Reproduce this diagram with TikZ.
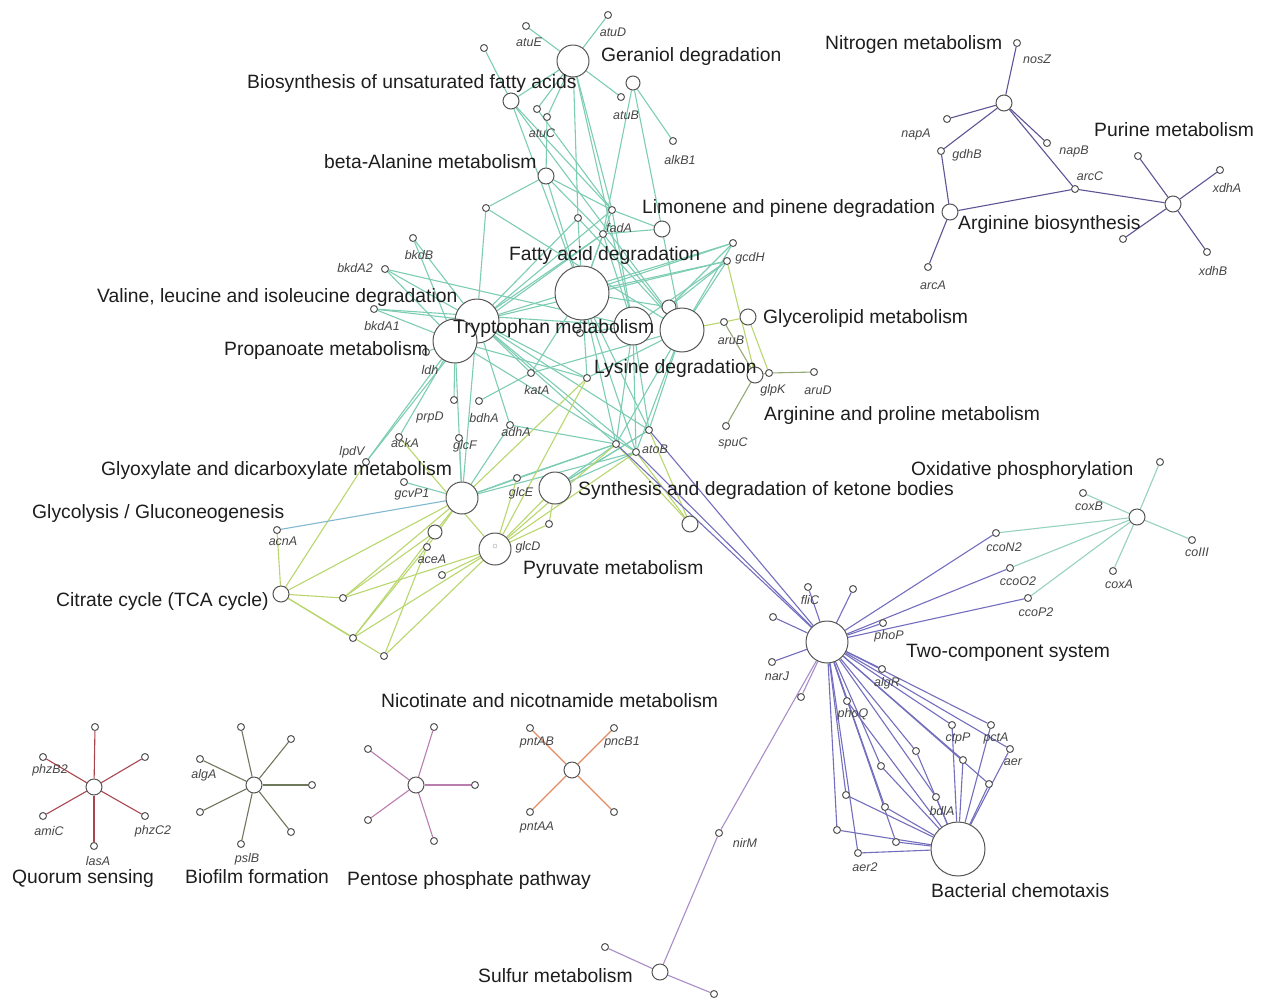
\documentclass[tikz,border=0pt]{standalone}
\usepackage{fontspec}
\setmainfont{Liberation Sans}
\pgfdeclarelayer{bot}\pgfdeclarelayer{bg}\pgfdeclarelayer{fg}
\pgfsetlayers{bot,bg,main,fg}
\definecolor{ncol}{RGB}{85,85,85}
\definecolor{labc}{RGB}{30,30,30}
\definecolor{glabc}{RGB}{70,70,70}
\definecolor{cteal}{RGB}{125,205,180}
\definecolor{clime}{RGB}{185,215,110}
\definecolor{cblue}{RGB}{130,185,210}
\definecolor{cpurp}{RGB}{115,110,190}
\definecolor{cdpurp}{RGB}{95,85,150}
\definecolor{clav}{RGB}{170,140,200}
\definecolor{coxt}{RGB}{150,210,190}
\definecolor{cred}{RGB}{170,70,80}
\definecolor{colive}{RGB}{110,120,90}
\definecolor{cpink}{RGB}{185,125,175}
\definecolor{corange}{RGB}{225,140,100}
\definecolor{cargp}{RGB}{150,170,120}
\newcommand\mynode[4][gs]{\node[#1] (#2) at (#3,#4) {};}
\newcommand\myedges[2]{\begin{pgfonlayer}{bg}\foreach \ea/\eb in {#2} {\draw[#1] (\ea) -- (\eb);}\end{pgfonlayer}}
\begin{document}
\begin{tikzpicture}[x=1pt,y=-1pt,
  gs/.style={circle,draw=ncol,fill=white,line width=1pt,minimum size=7pt,inner sep=0pt},
  gm/.style={gs,minimum size=16pt},
  gm2/.style={gs,minimum size=14pt},
  gb/.style={gs,minimum size=32pt},
  gb2/.style={gs,minimum size=38pt},
  gb3/.style={gs,minimum size=44pt},
  gb4/.style={gs,minimum size=54pt},
  ed/.style={line width=1.1pt},
  lab/.style={anchor=west,inner sep=0pt,font=\fontsize{19.3}{21}\selectfont,text=labc,text height=14pt,text depth=3.6pt},
  glab/.style={inner sep=0pt,font=\fontsize{12.5}{13}\selectfont\itshape,text=glabc}]
\begin{pgfonlayer}{bot}
\fill[white] (0,0) rectangle (1267,1002);
\end{pgfonlayer}
\useasboundingbox (0,0) rectangle (1267,1002);
% ---------- green cluster nodes
\mynode[gb]{Ger}{573}{61}
\mynode{atuD}{608}{15}
\mynode{atuE}{526}{26}
\mynode{n484}{484}{48}
\mynode[gm2]{m633}{633}{83}
\mynode{atuB}{621}{97}
\mynode[gm]{Uns}{511}{101}
\mynode{atuCa}{537}{109}
\mynode{atuCb}{547}{117}
\mynode{alkB}{673}{141}
\mynode[gm]{bAla}{546}{176}
\mynode{n486}{486}{208}
\mynode{n578}{578}{218}
\mynode{n612}{612}{210}
\mynode{fadA}{603}{234}
\mynode[gm]{Lim}{662}{229}
\mynode{n733}{733}{243}
\mynode{gcdH}{727}{261}
\mynode{bkdB}{413}{238}
\mynode{bkdA2}{385}{269}
\mynode[gb4]{FA}{582}{293}
\mynode{bkdA1}{374}{309}
\mynode[gb3]{Try}{477}{321}
\mynode[gb3]{Val}{455}{341}
\mynode{ldh}{426}{352}
\mynode[gb2]{T633}{633}{326}
\mynode[gm2]{m669}{669}{307}
\mynode[gb3]{Lys}{682}{330}
\mynode[gm]{Gly}{748}{317}
\mynode{aruB}{724}{322}
\mynode{n580}{580}{333}
\mynode[gm]{ArgP}{755}{375}
\mynode{glpK}{769}{373}
\mynode{aruD}{814}{372}
\mynode{spuC}{726}{426}
\mynode{n587}{587}{378}
\mynode{katA}{531}{373}
\mynode{prpD}{454}{400}
\mynode{bdhA}{479}{401}
\mynode{adhA}{510}{425}
\mynode{ackA}{399}{437}
\mynode{glcF}{459}{438}
\mynode{lpdV}{366}{462}
\mynode{atoB}{636}{452}
\mynode{n649}{649}{430}
\mynode{n616}{616}{444}
\mynode{gcvP}{404}{482}
\mynode[gb]{Glx}{462}{498}
\mynode{glcE}{517}{478}
\mynode[gb]{Ket}{555}{488}
\mynode[gm]{n690}{690}{524}
\mynode{n549}{549}{524}
\mynode{acnA}{277}{530}
\mynode[gm2]{n435}{435}{532}
\mynode{aceA}{427}{547}
\mynode[gb]{Pyr}{495}{549}
\node[circle,draw=gray!70,inner sep=0pt,minimum size=4pt] (Pyrin) at (495,546) {};
\mynode{n442}{442}{575}
\mynode[gm]{TCA}{281}{594}
\mynode{n343}{343}{598}
\mynode{n353}{353}{638}
\mynode{n384}{384}{656}
% ---------- green edges
\myedges{ed,cteal}{Ger/atuD,Ger/atuE,Ger/atuB,Ger/atuCa,Ger/atuCb,Ger/n578,Ger/n612,Ger/T633,Ger/Uns,
 m633/alkB,m633/fadA,m633/Lys,n484/Uns,Uns/n612,Uns/FA,Uns/Lys,atuCb/bAla,atuCa/n612,
 bAla/n486,bAla/n612,bAla/fadA,bAla/FA,n486/Try,n486/Lys,n578/FA,n578/Lys,n578/Try,
 n612/FA,n612/Lim,n612/T633,n612/Val,fadA/Lim,fadA/FA,fadA/Try,fadA/Val,fadA/T633,fadA/Lys,
 n733/FA,n733/Try,n733/Lys,n733/m669,gcdH/FA,gcdH/Lys,gcdH/T633,gcdH/Try,gcdH/m669,
 bkdB/Val,bkdB/Try,bkdA2/Val,bkdA2/Try,bkdA2/T633,bkdA1/Val,bkdA1/Try,bkdA1/T633,
 ldh/Val,prpD/Val,katA/Try,katA/FA,katA/bdhA,katA/Lys,adhA/Try,adhA/Glx,adhA/n616,ackA/Val,
 glcF/Glx,lpdV/Val,lpdV/Try,atoB/FA,atoB/Try,atoB/Val,atoB/T633,atoB/Lys,atoB/Ket,atoB/Glx,
 n616/FA,n616/Try,n616/Lys,n616/T633,n616/Ket,n616/Glx,n649/FA,n649/Lys,n649/T633,n649/Try,n649/Ket,
 n587/FA,n587/Lys,n587/Try,n587/Val,n580/FA,n580/T633,m669/Lys,m669/FA,
 gcvP/Glx,glcE/Glx,glcE/n616,Ket/n649,Glx/Try,Val/Glx}
\myedges{ed,clime}{gcdH/ArgP,aruB/Gly,Lys/aruB,Gly/glpK,ackA/Pyr,lpdV/TCA,atoB/Pyr,atoB/n690,n616/Pyr,n616/n690,
 n649/n690,n587/Pyr,n587/Glx,Pyr/n549,Pyr/n442,Pyr/n343,Pyr/n353,Pyr/n384,acnA/TCA,TCA/n343,TCA/n353,TCA/n384,
 n343/n435,n353/n435,n353/aceA,n384/aceA,n435/Glx,aceA/Glx,glcE/Pyr,Ket/Pyr,n549/Ket,TCA/Glx,n343/Glx}
\myedges{ed,cblue}{acnA/Glx}
\myedges{ed,cargp}{aruB/ArgP,ArgP/glpK,glpK/aruD,ArgP/spuC}
% ---------- two-component / chemotaxis
\mynode[gs,minimum size=42pt]{TC}{827}{642}
\mynode{fliC}{808}{587}
\mynode{n853}{853}{589}
\mynode{n773}{773}{617}
\mynode{phoP}{883}{623}
\mynode{narJ}{772}{662}
\mynode{algR}{882}{669}
\mynode{n801}{801}{697}
\mynode{phoQ}{847}{701}
\mynode{n916}{916}{751}
\mynode{n881}{881}{766}
\mynode{n846}{846}{795}
\mynode{n885}{885}{807}
\mynode{bdlA}{936}{797}
\mynode{n837}{837}{830}
\mynode{n896}{896}{842}
\mynode{aer2}{858}{853}
\mynode{ctpP}{952}{725}
\mynode{pctA}{991}{725}
\mynode{aer}{1010}{749}
\mynode{n963}{963}{760}
\mynode{n989}{989}{784}
\mynode[gb4]{BC}{958}{849}
\mynode{ccoN2}{996}{533}
\mynode{ccoO2}{1010}{568}
\mynode{ccoP2}{1028}{598}
\mynode[gm]{Ox}{1137}{517}
\mynode{n1160}{1160}{462}
\mynode{coxB}{1083}{493}
\mynode{coIII}{1192}{540}
\mynode{coxA}{1113}{571}
\mynode{nirM}{719}{833}
\mynode[gm]{Sul}{660}{972}
\mynode{n605}{605}{947}
\mynode{n714}{714}{994}
\myedges{ed,cpurp}{TC/fliC,TC/n853,TC/n773,TC/phoP,TC/narJ,TC/algR,TC/phoQ,TC/n916,TC/n881,TC/n846,TC/n885,
 TC/bdlA,TC/n837,TC/n896,TC/aer2,TC/ctpP,TC/pctA,TC/aer,TC/n963,TC/n989,TC/ccoN2,TC/ccoO2,TC/ccoP2,
 TC/atoB,TC/n649,TC/n616,
 BC/n846,BC/n885,BC/n837,BC/n896,BC/aer2,BC/bdlA,BC/n916,BC/n881,BC/ctpP,BC/pctA,BC/aer,BC/n963,BC/n989,BC/phoQ}
\myedges{ed,clav}{TC/n801,TC/nirM,nirM/Sul,Sul/n605,Sul/n714}
\myedges{ed,coxt}{Ox/ccoN2,Ox/ccoO2,Ox/ccoP2,Ox/n1160,Ox/coxB,Ox/coIII,Ox/coxA}
% ---------- nitrogen / purine
\mynode[gm]{Nit}{1004}{103}
\mynode{nosZ}{1017}{43}
\mynode{n947}{947}{119}
\mynode{gdhB}{941}{151}
\mynode{napB}{1047}{143}
\mynode{arcC}{1075}{189}
\mynode[gm]{ArgB}{950}{212}
\mynode{arcA}{928}{267}
\mynode[gm]{Pur}{1173}{204}
\mynode{n1138}{1138}{156}
\mynode{xdhA}{1220}{170}
\mynode{n1123}{1123}{239}
\mynode{xdhB}{1207}{252}
\myedges{ed,cdpurp}{Nit/nosZ,Nit/n947,Nit/gdhB,Nit/napB,Nit/arcC,gdhB/ArgB,ArgB/arcA,ArgB/arcC,arcC/Pur,
 Pur/n1138,Pur/xdhA,Pur/n1123,Pur/xdhB}
% ---------- small stars
\mynode[gm]{QS}{94}{787}
\mynode{q1}{95}{727}
\mynode{phzB}{43}{757}
\mynode{q3}{145}{757}
\mynode{amiC}{43}{816}
\mynode{phzC}{145}{816}
\mynode{lasA}{94}{846}
\myedges{ed,cred}{QS/q1,QS/phzB,QS/q3,QS/amiC,QS/phzC,QS/lasA}
\mynode[gm]{BF}{254}{785}
\mynode{b1}{241}{727}
\mynode{b2}{291}{739}
\mynode{algA}{200}{759}
\mynode{b4}{312}{785}
\mynode{b5}{200}{812}
\mynode{b6}{291}{832}
\mynode{pslB}{241}{844}
\myedges{ed,colive}{BF/b1,BF/b2,BF/algA,BF/b4,BF/b5,BF/b6,BF/pslB}
\mynode[gm]{PP}{416}{785}
\mynode{p1}{434}{727}
\mynode{p2}{368}{749}
\mynode{p3}{475}{785}
\mynode{p4}{368}{820}
\mynode{p5}{434}{841}
\myedges{ed,cpink}{PP/p1,PP/p2,PP/p3,PP/p4,PP/p5}
\mynode[gm]{NN}{572}{770}
\mynode{pntAB}{530}{728}
\mynode{pncB}{614}{728}
\mynode{pntAA}{530}{812}
\mynode{nn4}{614}{812}
\myedges{ed,corange}{NN/pntAB,NN/pncB,NN/pntAA,NN/nn4}
% ---------- labels
\begin{pgfonlayer}{fg}
\node[lab] (L1) at (601,56) {Geraniol degradation};
\node[lab] (L2) at (247,83) {Biosynthesis of unsaturated fatty acids};
\node[lab] (L3) at (324,163) {beta-Alanine metabolism};
\node[lab] (L4) at (642,208) {Limonene and pinene degradation};
\node[lab] (L5) at (509,255) {Fatty acid degradation};
\node[lab] (L6) at (97,297) {Valine, leucine and isoleucine degradation};
\node[lab] (L7) at (453,328) {Tryptophan metabolism};
\node[lab] (L8) at (224,350) {Propanoate metabolism};
\node[lab] (L9) at (763,318) {Glycerolipid metabolism};
\node[lab] (L10) at (594,368) {Lysine degradation};
\node[lab] (L11) at (764,415) {Arginine and proline metabolism};
\node[lab] (L12) at (101,470) {Glyoxylate and dicarboxylate metabolism};
\node[lab] (L13) at (578,490) {Synthesis and degradation of ketone bodies};
\node[lab] (L14) at (32,513) {Glycolysis / Gluconeogenesis};
\node[lab] (L15) at (523,569) {Pyruvate metabolism};
\node[lab] (L16) at (56,601) {Citrate cycle (TCA cycle)};
\node[lab] (L17) at (825,44) {Nitrogen metabolism};
\node[lab] (L18) at (1094,131) {Purine metabolism};
\node[lab] (L19) at (958,224) {Arginine biosynthesis};
\node[lab] (L20) at (911,470) {Oxidative phosphorylation};
\node[lab] (L21) at (906,652) {Two-component system};
\node[lab] (L22) at (931,892) {Bacterial chemotaxis};
\node[lab] (L23) at (478,977) {Sulfur metabolism};
\node[lab] (L24) at (381,702) {Nicotinate and nicotnamide metabolism};
\node[lab] (L25) at (12,878) {Quorum sensing};
\node[lab] (L26) at (185,878) {Biofilm formation};
\node[lab] (L27) at (347,880) {Pentose phosphate pathway};
% gene labels
\foreach \t/\x/\y in {atuE/529/42,atuD/613/32,atuB/626/115,atuC/542/133,alkB1/680/160,fadA/619/228,gcdH/750/258,
 bkdB/419/255,bkdA2/355/268,bkdA1/382/326,ldh/430/370,aruB/731/340,katA/537/390,glpK/773/390,aruD/818/390,
 spuC/733/443,prpD/430/417,bdhA/484/418,adhA/516/432,ackA/405/443,glcF/465/446,lpdV/352/452,atoB/655/449,
 gcvP1/412/494,glcE/521/493,acnA/283/541,aceA/432/559,glcD/528/547,nosZ/1037/59,napA/916/134,gdhB/967/155,
 napB/1074/151,arcC/1090/176,arcA/933/285,xdhA/1227/188,xdhB/1213/271,coxB/1089/506,coIII/1197/552,
 coxA/1119/584,ccoN2/1004/547,ccoO2/1018/581,ccoP2/1036/612,fliC/810/600,phoP/889/636,narJ/777/676,
 algR/887/683,phoQ/853/714,ctpP/958/738,pctA/996/738,aer/1013/762,bdlA/942/811,aer2/865/867,nirM/745/843,
 phzB2/50/770,amiC/49/831,phzC2/153/831,lasA/98/861,algA/204/775,pslB/247/859,pntAB/537/742,
 pncB1/622/742,pntAA/537/827}
 {\node[glab] (g-\t) at (\x,\y) {\t};}
\end{pgfonlayer}
\end{tikzpicture}
\end{document}
